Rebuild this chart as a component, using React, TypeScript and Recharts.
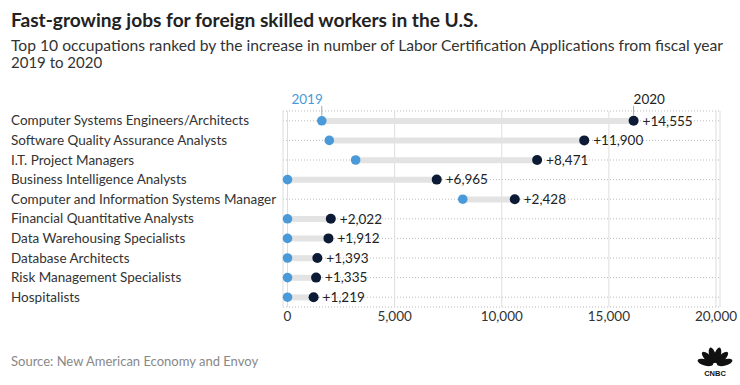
import {FC} from "react";
import {ComposedChart, Bar, Line, XAxis, YAxis, CartesianGrid, LabelList} from "recharts";

const categories = [
  "Computer Systems Engineers/Architects",
  "Software Quality Assurance Analysts",
  "I.T. Project Managers",
  "Business Intelligence Analysts",
  "Computer and Information Systems Manager",
  "Financial Quantitative Analysts",
  "Data Warehousing Specialists",
  "Database Architects",
  "Risk Management Specialists",
  "Hospitalists",
];
const values2019 = [1600, 1950, 3180, 0, 8180, 0, 0, 0, 0, 0];
const increases = [14555, 11900, 8471, 6965, 2428, 2022, 1912, 1393, 1335, 1219];
const xTicks = [0, 5000, 10000, 15000, 20000];

const BLUE = "#4a9ad9";
const NAVY = "#0c1a35";
const FONT = "Lato, 'Open Sans', sans-serif";

const data = categories.map((name, i) => ({
  name,
  y2019: values2019[i],
  y2020: values2019[i] + increases[i],
  range: [values2019[i], values2019[i] + increases[i]],
  inc: increases[i],
}));

const fmt = (v: number) => v.toLocaleString("en-US");

const CategoryTick = (props: any) => {
  const {y, payload} = props;
  return (
    <text x={11} y={y} dy={4.5} textAnchor="start" fill="#333" fontSize={13.5} fontFamily={FONT}>
      {payload.value}
    </text>
  );
};

const BlueDot = (props: any) => {
  const {cx, cy, index} = props;
  return (
    <g key={`b-${index}`}>
      <circle cx={cx} cy={cy} r={4.8} fill={BLUE}/>
      {index === 0 && (
        <g>
          <line x1={cx} x2={cx} y1={cy - 15} y2={cy - 5} stroke="#aaa" strokeWidth={1}/>
          <text x={cx + 1} y={cy - 17} textAnchor="end" fill={BLUE} fontSize={13.5} fontFamily={FONT}>2019</text>
        </g>
      )}
    </g>
  );
};

const NavyDot = (props: any) => {
  const {cx, cy, index} = props;
  return (
    <g key={`n-${index}`}>
      <circle cx={cx} cy={cy} r={5} fill={NAVY}/>
      {index === 0 && (
        <g>
          <line x1={cx} x2={cx} y1={cy - 15} y2={cy - 5} stroke="#aaa" strokeWidth={1}/>
          <text x={cx} y={cy - 17} textAnchor="start" fill="#222" fontSize={13.5} fontFamily={FONT}>2020</text>
        </g>
      )}
    </g>
  );
};

const Logo: FC = () => {
  const cx = 715;
  const cy = 365;
  const angles = [-75, -45, -15, 15, 45, 75];
  return (
    <g>
      {angles.map((a) => (
        <ellipse key={a} cx={cx} cy={cy - 10} rx={3.2} ry={8} fill="#111"
                 transform={`rotate(${a} ${cx} ${cy})`}/>
      ))}
      <text x={cx} y={376} textAnchor="middle" fontSize={7.5} fontWeight={900} fill="#111"
            fontFamily="'Liberation Sans', Arial, sans-serif">CNBC</text>
    </g>
  );
};

const App: FC = () => {
  return (
    <div style={{position: "absolute", left: 0, top: 0, width: 740, height: 385, background: "#fff"}}>
      <svg width={740} height={385} style={{position: "absolute", left: 0, top: 0}}>
        <text x={11} y={27} fontSize={19} fontWeight={700} fill="#222" fontFamily={FONT}
              textLength={467} lengthAdjust="spacingAndGlyphs">
          Fast-growing jobs for foreign skilled workers in the U.S.
        </text>
        <text x={11} y={51} fontSize={15} fill="#333" fontFamily={FONT}
              textLength={712} lengthAdjust="spacingAndGlyphs">
          Top 10 occupations ranked by the increase in number of Labor Certification Applications from fiscal year
        </text>
        <text x={11} y={68} fontSize={15} fill="#333" fontFamily={FONT}>2019 to 2020</text>
        <text x={11} y={366} fontSize={13} fill="#888" fontFamily={FONT}>
          Source: New American Economy and Envoy
        </text>
        <Logo/>
      </svg>
      <div style={{position: "absolute", left: 0, top: 0}}>
        <ComposedChart width={740} height={385} data={data} layout="vertical"
                       margin={{top: 111, right: 20, bottom: 48, left: 0}}>
          <CartesianGrid vertical={false} stroke="#bbb" strokeDasharray="1 2"/>
          <CartesianGrid horizontal={false} stroke="#ddd"/>
          <XAxis type="number" domain={[0, 20000]} ticks={xTicks} tickFormatter={fmt}
                 padding={{left: 4.5, right: 4}} axisLine={false} tickLine={false} tickSize={2}
                 tick={{fill: "#333", fontSize: 13.5, fontFamily: FONT}} interval={0}/>
          <YAxis type="category" dataKey="name" width={283} axisLine={false} tickLine={false}
                 tick={<CategoryTick/>} interval={0}/>
          <Bar dataKey="range" barSize={6} fill="#e3e3e3" isAnimationActive={false}/>
          <Line dataKey="y2019" stroke="none" dot={BlueDot} activeDot={false} isAnimationActive={false}/>
          <Line dataKey="y2020" stroke="none" dot={NavyDot} activeDot={false} isAnimationActive={false}>
            <LabelList dataKey="inc" position="right" offset={9} fill="#222" fontSize={13.5}
                       fontFamily={FONT} formatter={(v: any) => "+" + fmt(Number(v))}/>
          </Line>
        </ComposedChart>
      </div>
    </div>
  );
};

export default App;
